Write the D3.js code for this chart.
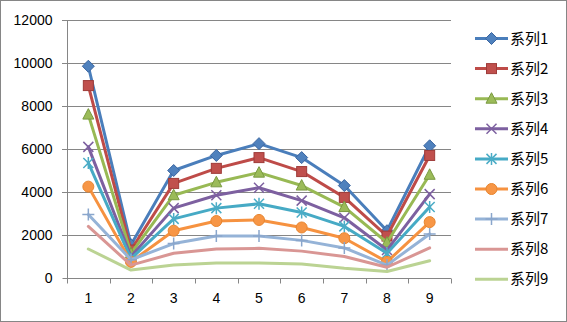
<!DOCTYPE html>
<html><head><meta charset="utf-8">
<script src="https://cdn.jsdelivr.net/npm/d3@7"></script>
<style>body{margin:0;background:#fff}svg{display:block}</style>
</head><body><svg id="c" width="567" height="322"></svg>
<script>
const categories = ["1","2","3","4","5","6","7","8","9"];
const seriesNames = ["系列1","系列2","系列3","系列4","系列5","系列6","系列7","系列8","系列9"];
const s1 = [9850,1550,5000,5700,6250,5600,4300,2200,6150];
const s2 = [8950,1300,4400,5100,5600,4950,3750,1950,5700];
const s3 = [7600,1150,3850,4450,4900,4300,3300,1650,4800];
const s4 = [6100,1000,3250,3850,4200,3600,2800,1300,3900];
const s5 = [5350,900,2750,3250,3450,3050,2400,1150,3300];
const s6 = [4250,750,2200,2650,2700,2350,1850,750,2600];
const s7 = [2950,850,1600,1950,1950,1750,1400,600,2050];
const s8 = [2400,600,1150,1350,1380,1250,1000,500,1400];
const s9 = [1350,370,600,700,700,650,450,300,800];
const yTicks = [0,2000,4000,6000,8000,10000,12000];
const seriesValues = [s1,s2,s3,s4,s5,s6,s7,s8,s9];
const lineColors = ["#4A7EBB","#BE4B48","#98B954","#7D60A0","#46AAC5","#F69240","#95B3D7","#D99694","#BBD393"];
const fillColors = ["#4F81BD","#C0504D","#9BBB59","#7D60A0","#4BACC6","#F79646","#95B3D7","#D99694","#BBD393"];
const strokeColors = ["#3A65A0","#9E3B39","#7A9A42","#7D60A0","#4BACC6","#E8852E","#8AA6CC","#D99694","#BBD393"];
const markers = ["diamond","square","triangle","x","star","circle","plus","none","none"];

const svg = d3.select("#c");
const font = "'Liberation Sans', Arial, sans-serif";
svg.append("rect").attr("x",0.5).attr("y",0.5).attr("width",566).attr("height",321)
  .attr("fill","#fff").attr("stroke","#868686");

const x = d3.scaleBand().domain(categories).range([67,451]);
const y = d3.scaleLinear().domain([0,12000]).range([278,20]);

// gridlines
svg.append("g").selectAll("line").data(yTicks.filter(d=>d>0)).join("line")
  .attr("x1",62).attr("x2",451)
  .attr("y1",d=>Math.round(y(d))+0.5).attr("y2",d=>Math.round(y(d))+0.5)
  .attr("stroke","#868686").attr("stroke-width",1);

// y axis
const ya = svg.append("g").attr("transform","translate(67.5,0)")
  .call(d3.axisLeft(y).tickValues(yTicks).tickSize(5).tickPadding(10).tickFormat(d3.format("d")));
ya.select(".domain").attr("stroke","#868686").attr("d","M0,20V278");
ya.selectAll(".tick line").attr("stroke","#868686");
ya.selectAll(".tick text").attr("font-family",font).attr("font-size",14).attr("fill","#000");

// x axis
const xa = svg.append("g").attr("transform","translate(0,278.5)")
  .call(d3.axisBottom(x).tickSize(0).tickPadding(15));
xa.select(".domain").attr("stroke","#868686").attr("d","M67,0H451");
xa.selectAll(".tick text").attr("font-family",font).attr("font-size",14).attr("fill","#000");
xa.append("g").selectAll("line").data(categories.concat(["end"])).join("line")
  .attr("x1",(d,i)=>Math.round(67+i*x.bandwidth())+0.5).attr("x2",(d,i)=>Math.round(67+i*x.bandwidth())+0.5)
  .attr("y1",0).attr("y2",5).attr("stroke","#868686");

function drawMarker(g, type, i){
  const f = fillColors[i], s = strokeColors[i];
  if(type==="diamond") g.append("path").attr("d","M0,-6L6,0L0,6L-6,0Z").attr("fill",f).attr("stroke",s).attr("stroke-width",1);
  else if(type==="square") g.append("rect").attr("x",-5).attr("y",-5).attr("width",10).attr("height",10).attr("fill",f).attr("stroke",s).attr("stroke-width",1);
  else if(type==="triangle") g.append("path").attr("d","M0,-6L5.5,4.5L-5.5,4.5Z").attr("fill",f).attr("stroke",s).attr("stroke-width",1);
  else if(type==="x") g.append("path").attr("d","M-5,-5L5,5M-5,5L5,-5").attr("stroke",s).attr("stroke-width",1.5).attr("fill","none");
  else if(type==="star") g.append("path").attr("d","M-5,-5L5,5M-5,5L5,-5M0,-6V6").attr("stroke",s).attr("stroke-width",1.5).attr("fill","none");
  else if(type==="circle") g.append("circle").attr("r",5.5).attr("fill",f).attr("stroke",s).attr("stroke-width",1);
  else if(type==="plus") g.append("path").attr("d","M-6,0H6M0,-6V6").attr("stroke",s).attr("stroke-width",1.5).attr("fill","none");
}

const line = d3.line().x((d,i)=>x(categories[i])+x.bandwidth()/2).y(d=>y(d));
seriesValues.forEach((vals,i)=>{
  const g = svg.append("g");
  g.append("path").attr("d",line(vals)).attr("fill","none").attr("stroke",lineColors[i])
    .attr("stroke-width",3).attr("stroke-linejoin","round").attr("stroke-linecap","round");
  vals.forEach((v,j)=>{
    const mg = g.append("g").attr("transform",`translate(${x(categories[j])+x.bandwidth()/2},${y(v)})`);
    drawMarker(mg, markers[i], i);
  });
});

// legend
const lg = svg.append("g");
seriesNames.forEach((n,i)=>{
  const yy = 38.5 + i*30.1;
  lg.append("line").attr("x1",475).attr("x2",508).attr("y1",yy).attr("y2",yy)
    .attr("stroke",lineColors[i]).attr("stroke-width",3);
  const mg = lg.append("g").attr("transform",`translate(491.5,${yy})`);
  drawMarker(mg, markers[i], i);
  lg.append("text").attr("x",510).attr("y",yy+5).attr("font-family","'Noto Sans CJK SC', "+font)
    .attr("font-size",15).attr("fill","#000").text(n);
});
</script></body></html>
